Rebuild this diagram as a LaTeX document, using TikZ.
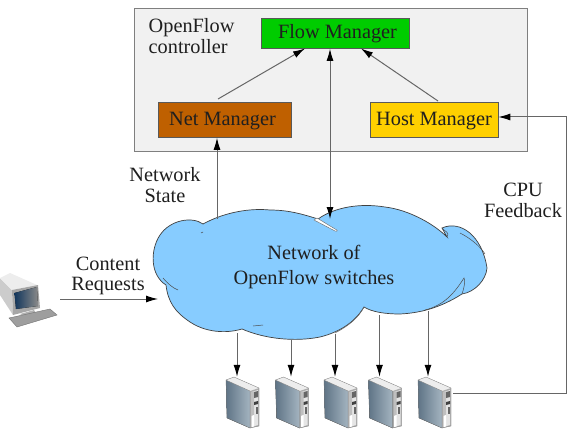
\documentclass[tikz,border=0pt]{standalone}
\usepackage{fontspec}
\setmainfont{Liberation Serif}
\usetikzlibrary{arrows.meta}
\definecolor{panelgray}{HTML}{F1F1F1}
\definecolor{panelline}{HTML}{7F7F7F}
\definecolor{flowgreen}{HTML}{00CC00}
\definecolor{netbrown}{HTML}{BF6000}
\definecolor{hostyellow}{HTML}{FFD000}
\definecolor{cloudblue}{HTML}{87CCFF}
\definecolor{wire}{HTML}{666666}
\definecolor{sidedark}{HTML}{5F7486}
\definecolor{sidelight}{HTML}{A4B4C0}
\definecolor{screendark}{HTML}{12365C}
\definecolor{screenlight}{HTML}{8A8A8A}
\tikzset{
  x=1pt,y=-1pt,
  manager/.style={draw=black!65,line width=0.8pt,anchor=north west,inner sep=0pt},
  label/.style={font=\fontsize{20.3}{20.8}\selectfont,align=center,inner sep=0pt,text=black!88},
  link/.style={draw=wire,line width=1pt,-{Latex[length=12pt,width=7pt,black]}},
  twoway/.style={draw=wire,line width=1pt,{Latex[length=12pt,width=7pt,black]}-{Latex[length=12pt,width=7pt,black]}},
  anchorpt/.style={inner sep=0pt,minimum size=0pt}
}
% Tower server: left edge, top edge, node name, horizontal offset of its entry point
\newcommand{\towerserver}[4]{%
  \begin{scope}[shift={(#1,#2)}]
    \fill[left color=sidedark,right color=sidelight] (0,3) -- (24,14) -- (24,51) -- (1,41) -- cycle;
    \fill[black!7] (0,3) -- (8,0) -- (33,11) -- (24,14) -- cycle;
    \fill[black!32] (24,14) -- (33,11) -- (33,49) -- (24,51) -- cycle;
    \fill[black!10] (25.5,15) -- (32,13) -- (32,48) -- (25.5,50) -- cycle;
    \fill[black!25] (25.5,15) -- (28,14.5) -- (28,38) -- (25.5,39) -- cycle;
    \fill[black!60] (28,15) -- (32,14) -- (32,20) -- (28,21) -- cycle;
    \fill[black!75] (28,25) -- (32,24) -- (32,27) -- (28,28) -- cycle;
    \fill[black!60] (29.5,30) rectangle (31.5,37);
    \fill[white] (25.5,39) -- (28,38) -- (28,49.5) -- (25.5,50) -- cycle;
    \draw[black!55,line width=0.3pt] (0,3) -- (8,0) -- (33,11) -- (33,49) -- (24,51) -- (1,41) -- cycle;
    \draw[black!50,line width=0.3pt] (0,3) -- (24,14) -- (24,51);
    \node[anchorpt] (#3) at (#4,0) {};
    \node[anchorpt] (#3e) at (35,16) {};
  \end{scope}}
\begin{document}
\begin{tikzpicture}
\useasboundingbox (0,0) rectangle (573,433);
\fill[white] (0,0) rectangle (573,433);

% Controller panel
\node[draw=panelline,fill=panelgray,line width=0.9pt,anchor=north west,minimum width=393.5pt,minimum height=143pt,inner sep=0pt] (ctrl) at (133.5,8) {};
\node[label,align=left,anchor=north west] (ctrltext) at (148.5,18.5) {OpenFlow\\controller};
\node[manager,fill=flowgreen,minimum width=148pt,minimum height=30pt] (flow) at (261,18) {};
\node[label] (flowtext) at (337.5,33.5) {Flow Manager};
\node[manager,fill=netbrown,minimum width=133pt,minimum height=35pt] (net) at (158,102) {};
\node[label] (nettext) at (222.5,121.5) {Net Manager};
\node[manager,fill=hostyellow,minimum width=128pt,minimum height=35pt] (host) at (369.5,102) {};
\node[label] (hosttext) at (434,121.5) {Host Manager};

% Switch network cloud
\path[draw=black!75,fill=cloudblue,line width=0.7pt]
  (203,224) .. controls (225,212) and (250,208) .. (270,210)
  .. controls (290,210) and (305,215) .. (318,219)
  .. controls (335,207) and (360,203) .. (385,207)
  .. controls (410,210) and (435,225) .. (447,237)
  -- (442,228)
  .. controls (460,220) and (482,235) .. (487,268)
  .. controls (486,280) and (475,292) .. (462,294)
  .. controls (440,308) and (420,313) .. (400,314)
  .. controls (385,314) and (372,312) .. (364,307)
  .. controls (355,322) and (340,332) .. (320,337)
  .. controls (295,342) and (265,339) .. (242,329)
  .. controls (225,334) and (205,332) .. (190,322)
  .. controls (175,312) and (168,302) .. (166,285)
  .. controls (150,275) and (150,250) .. (160,235)
  .. controls (170,220) and (192,216) .. (203,224)
  -- cycle;
% Creases along the outline
\fill[white,draw=black!60,line width=0.4pt] (317,218) -- (335,229) .. controls (338,230) and (338,232) .. (335,231) -- (314,220) -- cycle;
\draw[black!70,line width=0.5pt] (163,278) .. controls (168,284) and (173,288) .. (178,290);
\draw[black!70,line width=0.5pt] (462,294) .. controls (465,285) and (465,280) .. (464,278) .. controls (455,292) and (445,305) .. (425,310);
\draw[black!70,line width=0.5pt] (442,228) .. controls (445,232) and (450,232) .. (447,237);
\draw[black!70,line width=0.5pt] (460,233) .. controls (470,238) and (480,246) .. (485,254);
\draw[black!70,line width=0.5pt] (253,326) -- (263,325);
\draw[black!70,line width=0.5pt] (201,233) -- (203,232);
\draw[black!60,line width=0.5pt] (364,307) .. controls (358,318) and (350,325) .. (335,333);
\node[label,font=\fontsize{20.3}{25}\selectfont] (cloudtext) at (314,267.5) {Network of\\OpenFlow switches};

% Client workstation
\fill[black!20] (0,278) -- (12,290) -- (13,315) -- (0,295) -- cycle;
\fill[black!7] (0,278) -- (10,273) -- (37,285) -- (12,290) -- cycle;
\fill[black!35] (12,290) -- (38,285) -- (40,308) -- (13,315) -- cycle;
\fill[left color=screendark,right color=screenlight] (14.5,293) -- (37,287) -- (38,306) -- (16,309) -- cycle;
\fill[black!30] (20,314) -- (34,310) -- (36,313) -- (26,317) -- cycle;
\fill[black!38] (9,318) -- (50,309) -- (57,315) -- (17,327) -- cycle;
\draw[black!55,line width=0.4pt] (9,318) -- (50,309) -- (57,315) -- (17,327) -- cycle;

% Server row
\towerserver{226}{377}{srva}{11}
\towerserver{275.5}{377}{srvb}{15.5}
\towerserver{324}{377}{srvc}{11}
\towerserver{368.5}{377}{srvd}{11}
\towerserver{418}{377}{srve}{10}

% Control links
\coordinate (netfrom) at (218,99);
\coordinate (hostfrom) at (438,101);
\coordinate (nettap) at (217,219);
\coordinate (cloudtap) at (330,219);
\coordinate (clientout) at (60,299);
\coordinate (cloudin) at (158,299);
\coordinate (feedbackcorner) at (566.5,117);
\draw[link] (netfrom) -- (305,48.5);
\draw[link] (hostfrom) -- (361,48.5);
\draw[link] (nettap) -- (nettap |- net.south);
\draw[twoway] (cloudtap |- flow.south) -- (cloudtap);
\draw[link] (srvee) -| (feedbackcorner) -- (feedbackcorner -| host.east);
\draw[link] (clientout) -- (cloudin);

% Switch to server links
\draw[link] (srva |- 0,333) -- (srva);
\draw[link] (srvb |- 0,340) -- (srvb);
\draw[link] (srvc |- 0,334) -- (srvc);
\draw[link] (srvd |- 0,315) -- (srvd);
\draw[link] (srve |- 0,311) -- (srve);

% Link captions
\node[label] (statetext) at (165,185) {Network\\State};
\node[label] (contenttext) at (108,276) {Content\\Requests};
\node[label] (cputext) at (523,200.5) {CPU\\Feedback};
\end{tikzpicture}
\end{document}
